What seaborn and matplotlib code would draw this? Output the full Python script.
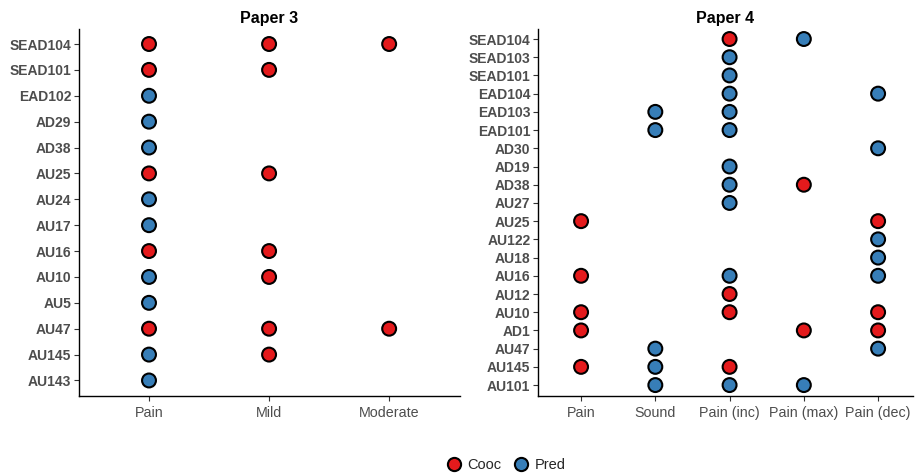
import numpy as np
import pandas as pd
import matplotlib
matplotlib.use("Agg")
import matplotlib.pyplot as plt
from matplotlib.lines import Line2D
import seaborn as sns

# ---- Paper 3 ----
p3_conditions = ["Pain", "Mild", "Moderate"]
p3_units = ["SEAD104", "SEAD101", "EAD102", "AD29", "AD38", "AU25", "AU24",
            "AU17", "AU16", "AU10", "AU5", "AU47", "AU145", "AU143"]
p3_unit = ["SEAD104", "SEAD104", "SEAD104", "SEAD101", "SEAD101", "EAD102", "AD29",
           "AD38", "AU25", "AU25", "AU24", "AU17", "AU16", "AU16", "AU10", "AU10",
           "AU5", "AU47", "AU47", "AU47", "AU145", "AU145", "AU143"]
p3_cond = ["Pain", "Mild", "Moderate", "Pain", "Mild", "Pain", "Pain",
           "Pain", "Pain", "Mild", "Pain", "Pain", "Pain", "Mild", "Pain", "Mild",
           "Pain", "Pain", "Mild", "Moderate", "Pain", "Mild", "Pain"]
p3_type = ["Cooc", "Cooc", "Cooc", "Cooc", "Cooc", "Pred", "Pred",
           "Pred", "Cooc", "Cooc", "Pred", "Pred", "Cooc", "Cooc", "Pred", "Cooc",
           "Pred", "Cooc", "Cooc", "Cooc", "Pred", "Cooc", "Pred"]

# ---- Paper 4 ----
p4_conditions = ["Pain", "Sound", "Pain (inc)", "Pain (max)", "Pain (dec)"]
p4_units = ["SEAD104", "SEAD103", "SEAD101", "EAD104", "EAD103", "EAD101", "AD30",
            "AD19", "AD38", "AU27", "AU25", "AU122", "AU18", "AU16", "AU12", "AU10",
            "AD1", "AU47", "AU145", "AU101"]
p4_unit = ["SEAD104", "SEAD104", "SEAD103", "SEAD101", "EAD104", "EAD104",
           "EAD103", "EAD103", "EAD101", "EAD101", "AD30", "AD19", "AD38", "AD38",
           "AU27", "AU25", "AU25", "AU122", "AU18", "AU16", "AU16", "AU16", "AU12",
           "AU10", "AU10", "AU10", "AD1", "AD1", "AD1", "AU47", "AU47",
           "AU145", "AU145", "AU145", "AU101", "AU101", "AU101"]
p4_cond = ["Pain (inc)", "Pain (max)", "Pain (inc)", "Pain (inc)", "Pain (inc)", "Pain (dec)",
           "Sound", "Pain (inc)", "Sound", "Pain (inc)", "Pain (dec)", "Pain (inc)", "Pain (inc)", "Pain (max)",
           "Pain (inc)", "Pain", "Pain (dec)", "Pain (dec)", "Pain (dec)", "Pain", "Pain (inc)", "Pain (dec)", "Pain (inc)",
           "Pain", "Pain (inc)", "Pain (dec)", "Pain", "Pain (max)", "Pain (dec)", "Sound", "Pain (dec)",
           "Pain", "Sound", "Pain (inc)", "Sound", "Pain (inc)", "Pain (max)"]
p4_type = ["Cooc", "Pred", "Pred", "Pred", "Pred", "Pred",
           "Pred", "Pred", "Pred", "Pred", "Pred", "Pred", "Pred", "Cooc",
           "Pred", "Cooc", "Cooc", "Pred", "Pred", "Cooc", "Pred", "Pred", "Cooc",
           "Cooc", "Cooc", "Cooc", "Cooc", "Cooc", "Cooc", "Pred", "Pred",
           "Cooc", "Pred", "Cooc", "Pred", "Pred", "Pred"]

palette = {"Cooc": "#E41A1C", "Pred": "#377EB8"}

sns.set_theme(style="white")
plt.rcParams["font.family"] = ["Liberation Sans", "DejaVu Sans"]

fig = plt.figure(figsize=(9.15, 4.75), dpi=100)
W, H = 915, 475


def panel(rect_px, title, units_order, conds_order, unit, cond, kind, xlim, ylim):
    x0, y0, x1, y1 = rect_px
    ax = fig.add_axes([x0 / W, 1 - y1 / H, (x1 - x0) / W, (y1 - y0) / H])
    df = pd.DataFrame({"unit": unit, "cond": cond, "type": kind})
    df["xi"] = df["cond"].map({c: i for i, c in enumerate(conds_order)})
    df["yi"] = df["unit"].map({u: i for i, u in enumerate(units_order)})
    sns.scatterplot(data=df, x="xi", y="yi", hue="type", palette=palette,
                    s=100, edgecolor="black", linewidth=1.5, legend=False,
                    ax=ax, zorder=3, clip_on=False)
    ax.set_xlim(*xlim)
    ax.set_ylim(*ylim)
    ax.set_xticks(range(len(conds_order)))
    ax.set_xticklabels(conds_order, fontsize=10.3, color="#4d4d4d")
    ax.set_yticks(range(len(units_order)))
    ax.set_yticklabels(units_order, fontsize=10, color="#4d4d4d", fontweight="bold")
    ax.set_xlabel("")
    ax.set_ylabel("")
    ax.set_title(title, fontsize=11.5, fontweight="bold", color="black", pad=4)
    for s in ["top", "right"]:
        ax.spines[s].set_visible(False)
    for s in ["left", "bottom"]:
        ax.spines[s].set_color("black")
        ax.spines[s].set_linewidth(1.0)
    ax.tick_params(axis="both", which="major", length=3.5, width=0.8,
                   color="#333333", pad=2, left=True, bottom=True)
    ax.tick_params(axis="x", pad=4)
    ax.grid(False)
    return ax


panel((79, 29, 460, 396), "Paper 3", p3_units, p3_conditions,
      p3_unit, p3_cond, p3_type, (-0.583, 2.59), (13.6, -0.58))
panel((538, 29, 913, 396), "Paper 4", p4_units, p4_conditions,
      p4_unit, p4_cond, p4_type, (-0.58, 4.47), (19.6, -0.55))

handles = [Line2D([], [], marker="o", linestyle="", markersize=9.5,
                  markerfacecolor=palette[k], markeredgecolor="black",
                  markeredgewidth=1.5, label=k) for k in ["Cooc", "Pred"]]
fig.legend(handles=handles, loc="center", ncol=2, frameon=False,
           bbox_to_anchor=(506 / W, 1 - 465 / H), fontsize=10.5,
           handletextpad=0.4, columnspacing=0.9, handlelength=1.0)

fig.savefig("out.png", dpi=100)
